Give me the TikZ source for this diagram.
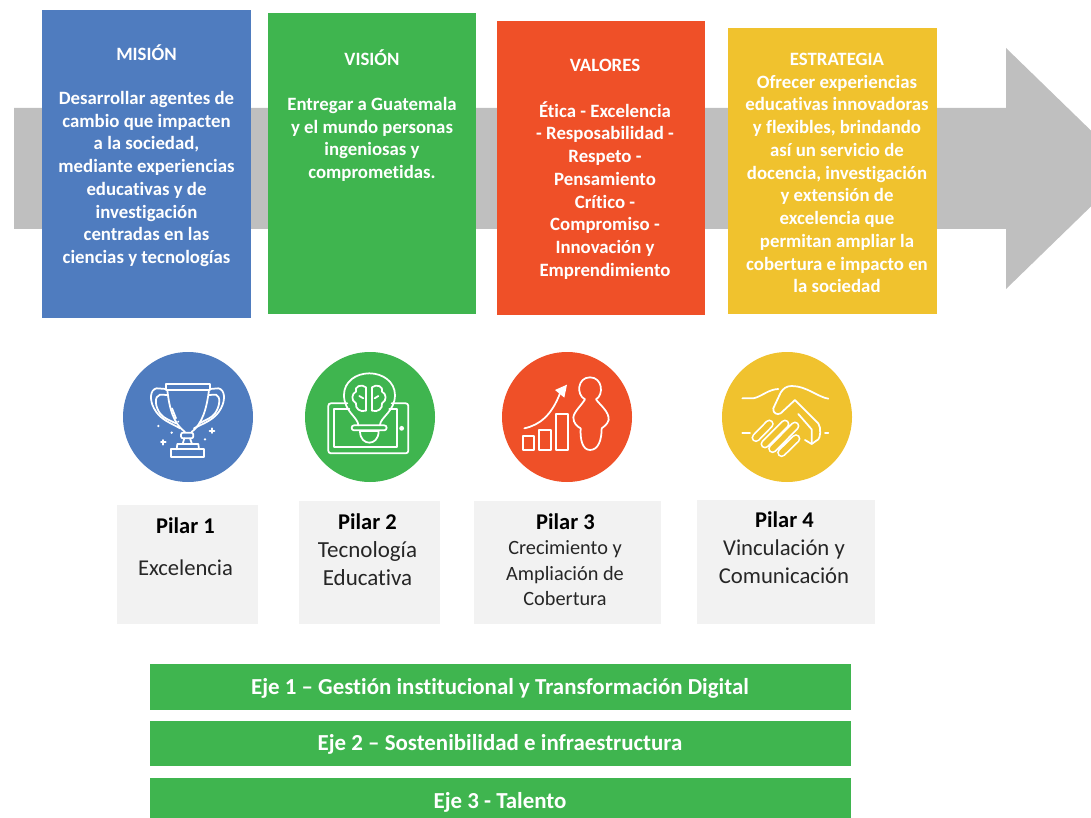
\documentclass[tikz,border=0pt]{standalone}
\usepackage{fontspec}
\setmainfont[Ligatures=NoCommon]{Carlito}
\definecolor{cblue}{HTML}{4F7CBF}
\definecolor{cgreen}{HTML}{3FB54F}
\definecolor{cred}{HTML}{EF5028}
\definecolor{cyellow}{HTML}{F0C22E}
\definecolor{cgray}{HTML}{BFBFBF}
\definecolor{cpale}{HTML}{F2F2F2}
\newcommand{\boxfont}{\fontsize{18.8}{22.75}\selectfont\bfseries}
\tikzset{
  panel/.style={draw=none,inner sep=0pt,anchor=north west},
  paneltext/.style={white,align=center,inner sep=0pt,font=\boxfont},
  dot/.style={circle,minimum size=130pt,inner sep=0pt,draw=none},
  pilartitle/.style={black,inner sep=0pt,font=\fontsize{22.5}{26}\selectfont\bfseries},
  pilartext/.style={black!85,align=center,inner sep=0pt},
  ejetext/.style={white,inner sep=0pt,font=\fontsize{22.9}{26}\selectfont\bfseries},
  icon/.style={white,line width=1.75pt,line cap=round,line join=round},
  spark/.style={white,line width=1.9pt,line cap=round}
}
\begin{document}
\begin{tikzpicture}[x=1pt,y=-1pt]
\useasboundingbox (0,0) rectangle (1091,818);
\clip (0,0) rectangle (1091,818);
\fill[cgray] (14,108) -- (1006,108) -- (1006,48) -- (1130,168.5) -- (1006,289) -- (1006,229) -- (14,229) -- cycle;
% panels
\node[panel,fill=cblue,minimum width=209pt,minimum height=308pt] (p1) at (42,10) {};
\node[panel,fill=cgreen,minimum width=208pt,minimum height=301pt] (p2) at (268,13) {};
\node[panel,fill=cred,minimum width=208pt,minimum height=294pt] (p3) at (497,21) {};
\node[panel,fill=cyellow,minimum width=209pt,minimum height=286pt] (p4) at (728,28) {};
\node[paneltext] (t1) at (146.5,52.5) {MISIÓN};
\node[paneltext] (b1) at (146.5,179) {Desarrollar agentes de\\cambio que impacten\\a la sociedad,\\mediante experiencias\\educativas y de\\investigación\\centradas en las\\ciencias y tecnologías};
\node[paneltext] (t2) at (372,58) {VISIÓN};
\node[paneltext] (b2) at (372,139.5) {Entregar a Guatemala\\y el mundo personas\\ingeniosas y\\comprometidas.};
\node[paneltext] (t3) at (605,65) {VALORES};
\node[paneltext] (b3) at (605,190.3) {Ética - Excelencia\\- Resposabilidad -\\Respeto -\\Pensamiento\\Crítico -\\Compromiso -\\Innovación y\\Emprendimiento};
\node[paneltext] (t4) at (837,59) {ESTRATEGIA};
\node[paneltext] (b4) at (837,184) {Ofrecer experiencias\\educativas innovadoras\\y flexibles, brindando\\así un servicio de\\docencia, investigación\\y extensión de\\excelencia que\\permitan ampliar la\\cobertura e impacto en\\la sociedad};
% circles
\node[dot,fill=cblue] (c1) at (188,417) {};
\node[dot,fill=cgreen] (c2) at (370,417) {};
\node[dot,fill=cred] (c3) at (567,417) {};
\node[dot,fill=cyellow] (c4) at (787,417) {};
% trophy
\begin{scope}[shift={(110,340)},x=0.3333pt,y=-0.3333pt]
\draw[icon] (168,131) rectangle (300,150);
\draw[icon] (172,150) .. controls (178,205) and (190,250) .. (225,276);
\draw[icon] (297,150) .. controls (290,205) and (278,250) .. (245,276);
\draw[icon] (168,147) -- (140,145) .. controls (120,148) and (118,180) .. (132,205) .. controls (150,240) and (185,250) .. (210,265);
\draw[icon] (172,165) -- (150,164) .. controls (132,168) and (135,200) .. (150,220) .. controls (162,236) and (178,240) .. (198,250);
\draw[icon] (300,147) -- (325,145) .. controls (345,148) and (347,180) .. (333,205) .. controls (315,240) and (280,250) .. (252,265);
\draw[icon] (296,165) -- (318,164) .. controls (333,168) and (330,200) .. (315,220) .. controls (303,236) and (285,240) .. (268,250);
\draw[icon] (186,205) -- (198,235);
\draw[icon,rounded corners=2pt] (213,278) rectangle (250,295);
\draw[icon] (223,295) -- (218,312) (240,295) -- (246,312);
\draw[icon] (200,328) -- (202,312) -- (265,312) -- (267,328);
\draw[icon] (183,328) rectangle (283,352);
\draw[spark] (153,307) -- (167,307) (160,300) -- (160,314) (299,272) -- (313,272) (306,265) -- (306,279);
\fill[white] (145,258) circle (1.3pt) (185,278) circle (1.3pt) (285,298) circle (1.3pt) (205,245) circle (1pt);
\end{scope}
% bulb and tablet
\begin{scope}[shift={(110,340)},x=0.3333pt,y=-0.3333pt]
\draw[icon,rounded corners=2.5pt] (712,190) -- (655,190) -- (655,340) -- (895,340) -- (895,190) -- (845,190);
\draw[icon] (718,208) -- (672,208) -- (672,322) -- (860,322) -- (860,208) -- (838,208);
\fill[white] (875,265) circle (2.4pt);
\draw[icon] (745,256) .. controls (745,232) and (702,215) .. (702,165) .. controls (702,125) and (738,100) .. (778,100) .. controls (818,100) and (855,125) .. (855,165) .. controls (855,215) and (810,232) .. (810,256);
\draw[icon,rounded corners=2.4pt] (725,256) rectangle (830,271);
\draw[icon] (750,273) .. controls (750,298) and (765,308) .. (778,308) .. controls (791,308) and (806,298) .. (806,273) -- cycle;
\draw[icon] (768,212) .. controls (750,218) and (735,205) .. (738,190) .. controls (722,182) and (725,160) .. (738,155) .. controls (732,140) and (755,130) .. (768,142) -- cycle;
\draw[icon] (786,212) .. controls (804,218) and (819,205) .. (816,190) .. controls (832,182) and (829,160) .. (816,155) .. controls (822,140) and (799,130) .. (786,142) -- cycle;
\draw[icon] (760,175) -- (748,168) (805,168) -- (794,175);
\end{scope}
% growth and person
\begin{scope}[shift={(490,340)},x=0.3333pt,y=-0.3333pt]
\draw[icon] (99,288) rectangle (131,330);
\draw[icon] (148,270) rectangle (182,330);
\draw[icon] (198,222) rectangle (233,330);
\draw[icon] (103,265) .. controls (150,255) and (185,225) .. (210,160);
\fill[white] (195,150) -- (231,134) -- (223,173) -- cycle;
\draw[icon] (285,178) .. controls (258,165) and (262,112) .. (300,112) .. controls (338,112) and (342,165) .. (318,178) .. controls (330,195) and (358,215) .. (356,240) .. controls (352,255) and (338,262) .. (335,265) .. controls (335,300) and (325,330) .. (300,330) .. controls (278,330) and (270,300) .. (272,265) .. controls (262,260) and (250,250) .. (250,232) .. controls (252,215) and (275,195) .. (285,178) -- cycle;
\end{scope}
% handshake
\begin{scope}[shift={(490,340)},x=0.3333pt,y=-0.3333pt]
\draw[icon] (757,175) -- (790,175) .. controls (815,170) and (835,148) .. (865,147);
\draw[icon] (1015,176) .. controls (985,172) and (950,138) .. (905,138) .. controls (890,138) and (880,145) .. (872,158) -- (850,205) .. controls (848,220) and (862,226) .. (872,220) -- (915,180) -- (985,250) .. controls (995,265) and (990,295) .. (985,298) -- (965,312) -- (945,300);
\draw[icon] (925,222) -- (965,268) -- (965,312);
\draw[icon] (757,280) -- (780,280) (1005,280) -- (1015,280);
\draw[line cap=round,white,line width=9pt] (798,293) -- (838,252) (825,312) -- (885,252) (848,326) -- (915,258) (875,338) -- (918,296);
\draw[line cap=round,cyellow,line width=5.5pt] (798,293) -- (838,252) (825,312) -- (885,252) (848,326) -- (915,258) (875,338) -- (918,296);
\end{scope}
% pilar boxes
\node[panel,fill=cpale,minimum width=141pt,minimum height=119pt] (q1) at (117,505) {};
\node[panel,fill=cpale,minimum width=141pt,minimum height=123pt] (q2) at (299,501) {};
\node[panel,fill=cpale,minimum width=187pt,minimum height=123pt] (q3) at (474,501) {};
\node[panel,fill=cpale,minimum width=178pt,minimum height=124pt] (q4) at (697,500) {};
\node[pilartitle] (a1) at (185.5,526) {Pilar 1};
\node[pilartext,font=\fontsize{22.6}{28}\selectfont] (d1) at (185.5,568) {Excelencia};
\node[pilartitle] (a2) at (367.5,522) {Pilar 2};
\node[pilartext,font=\fontsize{23}{28}\selectfont] (d2) at (367.5,564) {Tecnología\\Educativa};
\node[pilartitle] (a3) at (565.5,522) {Pilar 3};
\node[pilartext,font=\fontsize{20.3}{25.5}\selectfont] (d3) at (565,573.5) {Crecimiento y\\Ampliación de\\Cobertura};
\node[pilartitle] (a4) at (784.5,520) {Pilar 4};
\node[pilartext,font=\fontsize{22.7}{28}\selectfont] (d4) at (784,562) {Vinculación y\\Comunicación};
% ejes
\node[panel,fill=cgreen,minimum width=701pt,minimum height=46pt] (e1) at (150,664) {};
\node[panel,fill=cgreen,minimum width=701pt,minimum height=45pt] (e2) at (150,721) {};
\node[panel,fill=cgreen,minimum width=701pt,minimum height=42pt] (e3) at (150,778) {};
\node[ejetext] (f1) at (500,688) {Eje 1 – Gestión institucional y Transformación Digital};
\node[ejetext] (f2) at (500,744) {Eje 2 – Sostenibilidad e infraestructura};
\node[ejetext] (f3) at (500,802) {Eje 3 - Talento};
\end{tikzpicture}
\end{document}
